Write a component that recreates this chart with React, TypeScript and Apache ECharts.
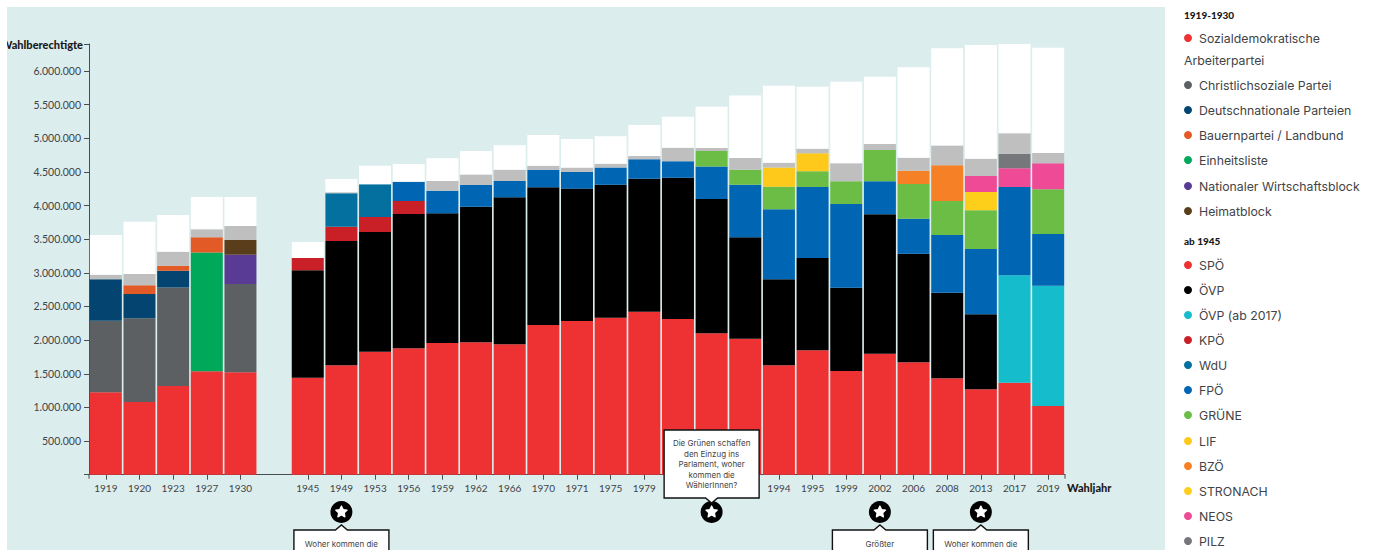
import React, { useEffect, useRef } from "react";
import * as echarts from "echarts";

const categories = ["1919","1920","1923","1927","1930","","1945","1949","1953","1956","1959","1962","1966","1970","1971","1975","1979","1983","1986","1990","1994","1995","1999","2002","2006","2008","2013","2017","2019"];
// these three year labels lie behind the open callout in the reference
const hiddenYearLabels = ["1983", "1986", "1990"];

// values in thousands of eligible voters, per election year
const sdap = { 1919:1224, 1920:1080, 1923:1318, 1927:1536, 1930:1522 };
const christlichsozial = { 1919:1065, 1920:1244, 1923:1462, 1930:1312 };
const einheitsliste = { 1927:1764 };
const deutschnational = { 1919:614, 1920:361, 1923:252 };
const bauernpartei = { 1920:130, 1923:74, 1927:228 };
const wirtschaftsblock = { 1930:436 };
const heimatblock = { 1930:218 };
const spoe = { 1945:1441, 1949:1625, 1953:1828, 1956:1878, 1959:1957, 1962:1968, 1966:1938, 1970:2225, 1971:2284, 1975:2333, 1979:2423, 1983:2314, 1986:2101, 1990:2021, 1994:1626, 1995:1849, 1999:1541, 2002:1798, 2006:1670, 2008:1432, 2013:1269, 2017:1367, 2019:1021 };
const oevp = { 1945:1596, 1949:1848, 1953:1779, 1956:1996, 1959:1928, 1962:2015, 1966:2184, 1970:2046, 1971:1967, 1975:1977, 1979:1976, 1983:2100, 1986:1997, 1990:1507, 1994:1278, 1995:1372, 1999:1238, 2002:2072, 2006:1615, 2008:1273, 2013:1115 };
const oevp2017 = { 2017:1596, 2019:1788 };
const kpoe = { 1945:183, 1949:213, 1953:223, 1956:193 };
const wdu = { 1949:496, 1953:486 };
const fpoe = { 1956:287, 1959:336, 1962:322, 1966:243, 1970:262, 1971:247, 1975:253, 1979:288, 1983:243, 1986:480, 1990:782, 1994:1040, 1995:1055, 1999:1244, 2002:490, 2006:520, 2008:857, 2013:970, 2017:1313, 2019:768 };
const gruene = { 1986:233, 1990:223, 1994:336, 1995:233, 1999:337, 2002:466, 2006:515, 2008:505, 2013:575, 2019:664 };
const lif = { 1994:283, 1995:268 };
const bzoe = { 2006:198, 2008:530 };
const stronach = { 2013:272 };
const neos = { 2013:238, 2017:277, 2019:387 };
const pilz = { 2017:218 };
const sonstige = { 1919:70, 1920:168, 1923:208, 1927:119, 1930:208, 1949:15, 1959:144, 1962:154, 1966:168, 1970:59, 1971:65, 1975:59, 1979:49, 1983:203, 1986:44, 1990:174, 1994:74, 1995:68, 1999:268, 2002:89, 2006:193, 2008:293, 2013:257, 2017:303, 2019:153 };
const nichtwaehler = { 1919:589, 1920:777, 1923:546, 1927:480, 1930:431, 1945:238, 1949:197, 1953:276, 1956:263, 1959:337, 1962:352, 1966:362, 1970:457, 1971:426, 1975:407, 1979:461, 1983:460, 1986:614, 1990:926, 1994:1144, 1995:921, 1999:1212, 2002:1000, 2006:1343, 2008:1447, 2013:1690, 2017:1327, 2019:1565 };

const stackOrder: [string, Record<string, number>, string][] = [
  ["Sozialdemokratische Arbeiterpartei", sdap, "#ee3133"],
  ["Christlichsoziale Partei", christlichsozial, "#5d6062"],
  ["Einheitsliste", einheitsliste, "#00a859"],
  ["Deutschnationale Parteien", deutschnational, "#034470"],
  ["Bauernpartei / Landbund", bauernpartei, "#e25a26"],
  ["Nationaler Wirtschaftsblock", wirtschaftsblock, "#593b96"],
  ["Heimatblock", heimatblock, "#5a3e1c"],
  ["SPÖ", spoe, "#ee3133"],
  ["ÖVP", oevp, "#000000"],
  ["ÖVP (ab 2017)", oevp2017, "#14bccc"],
  ["KPÖ", kpoe, "#c91f26"],
  ["WdU", wdu, "#04709f"],
  ["FPÖ", fpoe, "#0066b3"],
  ["GRÜNE", gruene, "#6bbd45"],
  ["LIF", lif, "#fec91b"],
  ["BZÖ", bzoe, "#f58025"],
  ["STRONACH", stronach, "#fecf1a"],
  ["NEOS", neos, "#ee4a95"],
  ["PILZ", pilz, "#75777a"],
  ["Sonstige", sonstige, "#bfbfbf"],
  ["Nichtwähler", nichtwaehler, "#ffffff"],
];

const legendTop = [
  ["Christlichsoziale Partei", "#5d6062", 85],
  ["Deutschnationale Parteien", "#034470", 110],
  ["Bauernpartei / Landbund", "#e25a26", 135],
  ["Einheitsliste", "#00a859", 160],
  ["Nationaler Wirtschaftsblock", "#593b96", 186],
  ["Heimatblock", "#5a3e1c", 211],
];
const legendBottom = [
  ["SPÖ", "#ee3133", 265],
  ["ÖVP", "#000000", 290],
  ["ÖVP (ab 2017)", "#14bccc", 315],
  ["KPÖ", "#c91f26", 340],
  ["WdU", "#04709f", 365],
  ["FPÖ", "#0066b3", 390],
  ["GRÜNE", "#6bbd45", 415],
  ["LIF", "#fec91b", 441],
  ["BZÖ", "#f58025", 466],
  ["STRONACH", "#fecf1a", 491],
  ["NEOS", "#ee4a95", 516],
  ["PILZ", "#75777a", 541],
];

const callouts = [
  { year: "1949", above: false, lines: ["Woher kommen die"] },
  { year: "1986", above: true, lines: ["Die Grünen schaffen", "den Einzug ins", "Parlament, woher", "kommen die", "WählerInnen?"] },
  { year: "2002", above: false, lines: ["Größter"] },
  { year: "2013", above: false, lines: ["Woher kommen die"] },
];

const FONT = "Lato";
const LEGEND_FONT = "Inter";
const TEXT = "#3f4447";
const LEGEND_SIZE = 12.3;

function starPoints(r: number, inner: number) {
  const pts: number[][] = [];
  for (let i = 0; i < 10; i++) {
    const a = -Math.PI / 2 + (i * Math.PI) / 5;
    const rad = i % 2 === 0 ? r : inner;
    pts.push([rad * Math.cos(a), rad * Math.sin(a)]);
  }
  return pts;
}

export default function App() {
  const ref = useRef<HTMLDivElement>(null);
  useEffect(() => {
    document.body.style.margin = "0";
    const chart = echarts.init(ref.current!, null, { renderer: "svg" });
    const option: any = {
      animation: false,
      grid: { left: 89, right: 310, top: 44, bottom: 75.3, containLabel: false, outerBoundsMode: "none" },
      xAxis: {
        type: "category",
        data: categories,
        name: "Wahljahr",
        nameLocation: "end",
        nameGap: 2,
        nameTextStyle: { fontFamily: FONT, fontWeight: 900, fontSize: 11, color: "#1a1a1a", verticalAlign: "top", padding: [7, 0, 0, 0] },
        axisLine: { lineStyle: { color: "#4a4d4f", width: 1 } },
        axisTick: { show: true, alignWithLabel: true, length: 5, lineStyle: { color: "#4a4d4f" }, interval: (_: number, v: string) => v !== "" },
        axisLabel: {
          interval: 0, fontFamily: FONT, fontSize: 10, color: TEXT, margin: 8,
          formatter: (v: string) => (hiddenYearLabels.includes(v) ? "" : v),
        },
      },
      yAxis: {
        type: "value",
        min: 0,
        max: 6400000,
        interval: 500000,
        name: "Wahlberechtigte",
        nameLocation: "end",
        nameGap: 0,
        nameTextStyle: { fontFamily: FONT, fontWeight: 900, fontSize: 11, color: "#1a1a1a", align: "right", verticalAlign: "middle", padding: [0, 6, 0, 0] },
        splitLine: { show: false },
        axisLine: { show: true, lineStyle: { color: "#4a4d4f", width: 1 } },
        axisTick: { show: true, length: 5, lineStyle: { color: "#4a4d4f" } },
        axisLabel: {
          fontFamily: FONT,
          fontSize: 10.5,
          color: TEXT,
          margin: 8,
          formatter: (v: number) => (v === 0 || v % 500000 !== 0 ? "" : String(v).replace(/\B(?=(\d{3})+$)/g, ".")),
        },
      },
      series: stackOrder.map(([name, rec, color]) => ({
        name,
        type: "bar",
        stack: "all",
        barWidth: 32,
        itemStyle: { color },
        data: categories.map((c) => (rec[c] != null ? rec[c] * 1000 : null)),
      })),
    };
    chart.setOption(option);

    const baseY = chart.convertToPixel({ yAxisIndex: 0 }, 0) as number;
    const axisLeft = 89;
    const axisRight = 1065;
    const legendItem = (label: any, color: any, y: any) => [
      { type: "circle", shape: { cx: 1188, cy: y, r: 4 }, style: { fill: color }, z: 5 },
      { type: "text", x: 1199, y: y + 0.6, style: { text: label, fontFamily: LEGEND_FONT, fontSize: LEGEND_SIZE, fill: TEXT, verticalAlign: "middle" }, z: 5 },
    ];
    const header = (label: string, y: number) => ({
      type: "text", x: 1184, y,
      style: { text: label, fontFamily: FONT, fontWeight: 900, fontSize: 10, fill: "#1a1a1a", verticalAlign: "middle" }, z: 5,
    });

    const elements: any[] = [
      { type: "rect", shape: { x: 7, y: 7, width: 1158, height: 543 }, style: { fill: "#dcedee" }, z: -10, silent: true },
      { type: "rect", shape: { x: 0, y: 0, width: 7, height: 60 }, style: { fill: "#ffffff" }, z: 50, silent: true },
      { type: "line", shape: { x1: axisLeft, y1: baseY, x2: axisLeft, y2: baseY + 4 }, style: { stroke: "#4a4d4f", lineWidth: 1 }, z: 5 },
      { type: "line", shape: { x1: axisRight, y1: baseY, x2: axisRight, y2: baseY + 4 }, style: { stroke: "#4a4d4f", lineWidth: 1 }, z: 5 },
      header("1919-1930", 15),
      ...legendItem("Sozialdemokratische", "#ee3133", 38),
      { type: "text", x: 1184, y: 60.6, style: { text: "Arbeiterpartei", fontFamily: LEGEND_FONT, fontSize: LEGEND_SIZE, fill: TEXT, verticalAlign: "middle" }, z: 5 },
      ...legendTop.flatMap(([l, c, y]) => legendItem(l, c, y)),
      header("ab 1945", 241),
      ...legendBottom.flatMap(([l, c, y]) => legendItem(l, c, y)),
    ];

    callouts.forEach((c) => {
      const x = chart.convertToPixel({ xAxisIndex: 0 }, c.year) as number;
      const cy = 512;
      elements.push({ type: "circle", shape: { cx: x, cy, r: 11 }, style: { fill: "#000" }, z: 40 });
      elements.push({
        type: "polygon", x, y: cy,
        shape: { points: starPoints(6, 3) },
        style: { fill: "#fff", stroke: "#fff", lineWidth: 1.2, lineJoin: "round" }, z: 41,
      });
      const l = x - 47.5, r = x + 47.5;
      const points = c.above
        ? [[l, 430], [r, 430], [r, 498], [x + 6, 498], [x, 503], [x - 6, 498], [l, 498]]
        : [[l, 530], [x - 6, 530], [x, 525], [x + 6, 530], [r, 530], [r, 560], [l, 560]];
      elements.push({
        type: "polygon", shape: { points },
        style: { fill: "#fff", stroke: "#111", lineWidth: 1.4 }, z: 42,
      });
      const top = c.above ? 443 : 544;
      c.lines.forEach((t, i) => {
        elements.push({
          type: "text", x, y: top + i * 10.5,
          style: { text: t, fontFamily: LEGEND_FONT, fontSize: 8, fill: "#444", align: "center", verticalAlign: "middle" }, z: 43,
        });
      });
    });

    chart.setOption({ graphic: { elements } });
    return () => chart.dispose();
  }, []);
  return <div ref={ref} style={{ width: 1375, height: 550 }} />;
}
